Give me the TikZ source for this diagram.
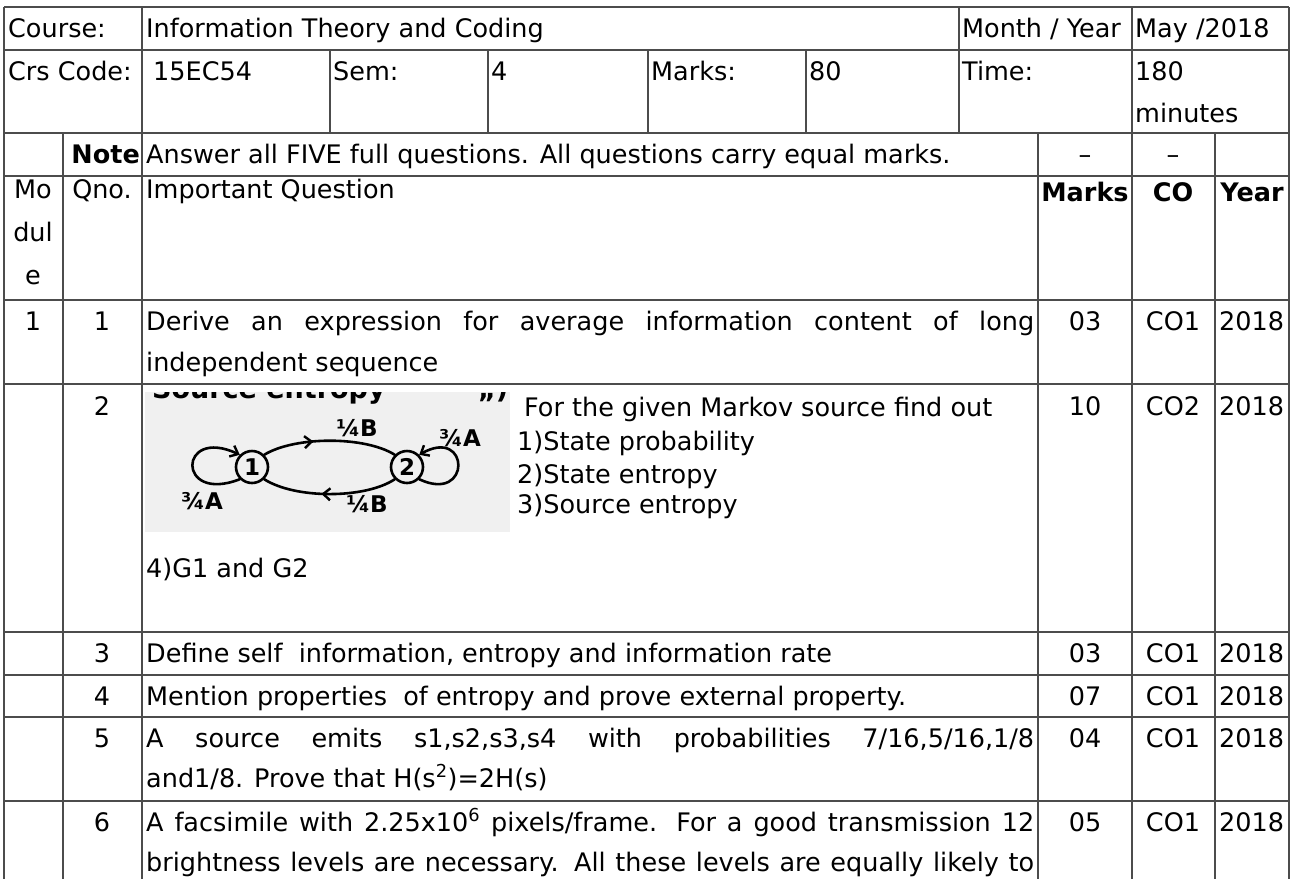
\documentclass[tikz,border=0pt]{standalone}
\usepackage{fontspec}
\setmainfont{DejaVu Sans}
\usetikzlibrary{arrows.meta,decorations.markings}

\newcommand{\cellfont}{\fontsize{25.5pt}{42pt}\selectfont}
\newcommand{\handfont}{\fontsize{23pt}{23pt}\selectfont\bfseries}

\begin{document}
\begin{tikzpicture}[x=1pt, y=-1pt,
    every node/.style={inner sep=0pt, font=\cellfont},
    txt/.style={anchor=base west},
    ctr/.style={anchor=base},
    hdr/.style={anchor=base, font=\cellfont\bfseries},
    rule/.style={draw=black!70, line width=1.3pt},
    hand/.style={line width=2.6pt, line cap=round},
    arrowmid/.style={postaction={decorate}, decoration={markings,
        mark=at position #1 with {\arrow{Straight Barb[length=7pt,width=12pt,line width=2.4pt]}}}},
    lbl/.style={font=\handfont}]
  \useasboundingbox (0,0) rectangle (1297,879);

  % table rules
  \foreach \y in {7,50,133,176,300,384,632,675,717,801}
    \draw[rule] (4,\y) -- (1289,\y);
  \foreach \x in {4,142,1132,1289}
    \draw[rule] (\x,7) -- (\x,879);
  \foreach \x in {330,488,648,806,959}
    \draw[rule] (\x,50) -- (\x,133);
  \draw[rule] (959,7) -- (959,50);
  \foreach \x in {63,1038,1215}
    \draw[rule] (\x,133) -- (\x,879);

  % header rows
  \node[txt] (course) at (8,37) {Course:};
  \node[txt] (title) at (146,37) {Information Theory and Coding};
  \node[txt] (monthyr) at (962,37) {Month / Year};
  \node[txt] (date) at (1135,37) {May /2018};
  \node[txt] (crscode) at (8,80) {Crs Code:};
  \node[txt] (code) at (153,80) {15EC54};
  \node[txt] (sem) at (333,80) {Sem:};
  \node[txt] (semval) at (491,80) {4};
  \node[txt] (marks) at (651,80) {Marks:};
  \node[txt] (marksval) at (809,80) {80};
  \node[txt] (time) at (962,80) {Time:};
  \node[txt] (dur) at (1135,80) {180};
  \node[txt] (durunit) at (1135,122) {minutes};

  \node[anchor=base east, font=\cellfont\bfseries] (note) at (140,163) {Note};
  \node[txt] (notetxt) at (146,163) {Answer all FIVE full questions. All questions carry equal marks.};
  \node[ctr] (dashm) at (1085,163) {--};
  \node[ctr] (dashc) at (1173,163) {--};

  \node[ctr] (mo) at (33,198) {Mo};
  \node[ctr] (dul) at (33,241) {dul};
  \node[ctr] (modE) at (33,284) {e};
  \node[ctr] (qno) at (102,198) {Qno.};
  \node[txt] (impq) at (146,198) {Important Question};
  \node[hdr] (hmarks) at (1085,201) {Marks};
  \node[hdr] (hco) at (1173,201) {CO};
  \node[hdr] (hyear) at (1252,201) {Year};

  % question 1
  \node[ctr] (mod1) at (33,330) {1};
  \node[ctr] (q1) at (102,330) {1};
  \node[txt] (q1a) at (146,330) {\makebox[888pt][s]{Derive an expression for average information content of long}};
  \node[txt] (q1b) at (146,371) {independent sequence};
  \node[ctr] (mk1) at (1085,330) {03};
  \node[ctr] (co1) at (1173,330) {CO1};
  \node[txt] (yr1) at (1219,330) {2018};

  % question 2 with the Markov source
  \node[ctr] (q2) at (102,415) {2};
  \fill[black!6] (145,392) rectangle (510,532);
  \begin{scope}
    \clip (145,392) rectangle (510,532);
    \node[anchor=base west, font=\fontsize{27pt}{27pt}\selectfont\bfseries] (scrap) at (152,398) {Source entropy};
    \node[anchor=base west, font=\fontsize{27pt}{27pt}\selectfont\bfseries] (scrapend) at (478,398) {,,)};
  \end{scope}
  \node[draw, circle, hand, minimum size=32pt, font=\handfont] (s1) at (252,467) {1};
  \node[draw, circle, hand, minimum size=32pt, font=\handfont] (s2) at (407,467) {2};
  \draw[hand, arrowmid=0.38] (s1.north east) .. controls (295,436) and (365,436) .. (s2.north west);
  \draw[hand, arrowmid=0.56] (s2.south west) .. controls (365,499) and (295,499) .. (s1.south east);
  \draw[hand, -{Straight Barb[length=7pt,width=12pt,line width=2.4pt]}] (s1.south west) .. controls (176,504) and (178,426) .. (s1.north west);
  \draw[hand, -{Straight Barb[length=7pt,width=12pt,line width=2.4pt]}] (s2.south east) .. controls (472,504) and (470,426) .. (s2.north east);
  \node[lbl] (lb1) at (357,428) {¼B};
  \node[lbl] (la2) at (460,438) {¾A};
  \node[lbl] (la1) at (202,501) {¾A};
  \node[lbl] (lb2) at (367,504) {¼B};

  \node[txt] (q2a) at (524,416) {For the given Markov source find out};
  \node[txt] (q2b) at (517,450) {1)State probability};
  \node[txt] (q2c) at (517,483) {2)State entropy};
  \node[txt] (q2d) at (517,513) {3)Source entropy};
  \node[txt] (q2e) at (146,577) {4)G1 and G2};
  \node[ctr] (mk2) at (1085,415) {10};
  \node[ctr] (co2) at (1173,415) {CO2};
  \node[txt] (yr2) at (1219,415) {2018};

  % questions 3 to 6
  \node[ctr] (q3) at (102,662) {3};
  \node[txt] (q3t) at (146,662) {Define self\ \ information, entropy and information rate};
  \node[ctr] (mk3) at (1085,662) {03};
  \node[ctr] (co3) at (1173,662) {CO1};
  \node[txt] (yr3) at (1219,662) {2018};

  \node[ctr] (q4) at (102,705) {4};
  \node[txt] (q4t) at (146,705) {Mention properties\ \ of entropy and prove external property.};
  \node[ctr] (mk4) at (1085,705) {07};
  \node[ctr] (co4) at (1173,705) {CO1};
  \node[txt] (yr4) at (1219,705) {2018};

  \node[ctr] (q5) at (102,747) {5};
  \node[txt] (q5a) at (146,747) {\makebox[888pt][s]{A source emits s1,s2,s3,s4 with probabilities 7/16,5/16,1/8}};
  \node[txt] (q5b) at (146,787) {and1/8. Prove that H(s\textsuperscript{2})=2H(s)};
  \node[ctr] (mk5) at (1085,747) {04};
  \node[ctr] (co5) at (1173,747) {CO1};
  \node[txt] (yr5) at (1219,747) {2018};

  \node[ctr] (q6) at (102,831) {6};
  \node[txt] (q6a) at (146,831) {\makebox[888pt][s]{A facsimile with 2.25x10\textsuperscript{6} pixels/frame. For a good transmission 12}};
  \node[txt] (q6b) at (146,871) {\makebox[888pt][s]{brightness levels are necessary. All these levels are equally likely to}};
  \node[ctr] (mk6) at (1085,831) {05};
  \node[ctr] (co6) at (1173,831) {CO1};
  \node[txt] (yr6) at (1219,831) {2018};
\end{tikzpicture}
\end{document}
